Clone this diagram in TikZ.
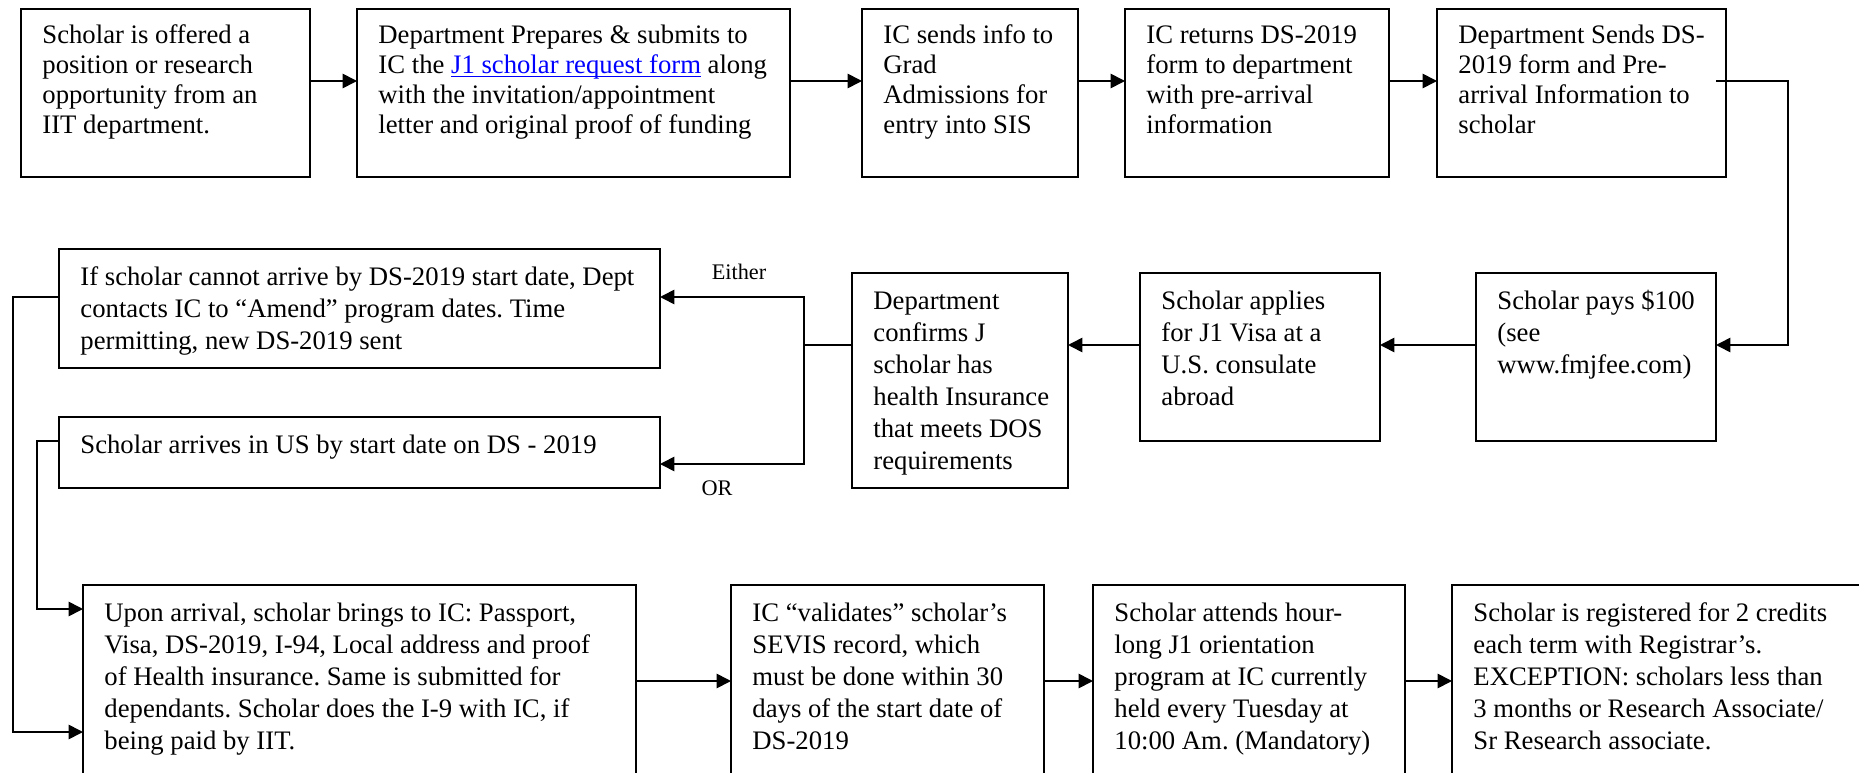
\documentclass[tikz,border=0pt]{standalone}
\usepackage{fontspec}
\setmainfont{Liberation Serif}
\usetikzlibrary{arrows.meta,calc}
\frenchspacing
\newcommand\boxnode[7][13.4]{%
  \node[box, minimum width={(#5-#3)*0.4494pt}, minimum height={(#6-#4)*0.4494pt}] (#2) at (#3,#4) {};
  \node[txt, font=\fontsize{12}{#1}\selectfont\frenchspacing] (#2-t) at ($(#2.north west)+(21,13.5)$) {\strut #7};
}
\newcommand\linkul[1]{\underline{\smash{#1}}}
\begin{document}
\begin{tikzpicture}[x=0.4494pt,y=-0.4494pt,
  box/.style={draw, line width=0.75pt, rectangle, anchor=north west, inner sep=0pt, outer sep=0pt},
  txt/.style={anchor=north west, inner sep=0pt, align=left},
  lbl/.style={inner sep=0pt, font=\fontsize{10}{12}\selectfont},
  conn/.style={line width=0.75pt},
  arr/.style={conn, -{Triangle[length=6.5pt,width=6.5pt]}},
]
\useasboundingbox (0,0) rectangle (1859,773);
\clip (0,0) rectangle (1859,773);
% Row 1
\boxnode{b1}{21}{9}{310}{177}{Scholar is offered a\\position or research\\opportunity from an\\IIT department.}
\boxnode{b2}{357}{9}{790}{177}{Department Prepares \& submits to\\IC the \textcolor{blue}{\linkul{J1 scholar request form}} along\\with the invitation/appointment\\letter and original proof of funding}
\boxnode{b3}{862}{9}{1078}{177}{IC sends info to\\Grad\\Admissions for\\entry into SIS}
\boxnode{b4}{1125}{9}{1389}{177}{IC returns DS-2019\\form to department\\with pre-arrival\\information}
\boxnode{b5}{1437}{9}{1726}{177}{Department Sends DS-\\2019 form and Pre-\\arrival Information to\\scholar}
% Row 2
\boxnode[14.4]{pays}{1476}{273}{1716}{441}{Scholar pays \$100\\(see\\www.fmjfee.com)}
\boxnode[14.4]{appl}{1140}{273}{1380}{441}{Scholar applies\\for J1 Visa at a\\U.S. consulate\\abroad}
\boxnode[14.4]{dept}{852}{273}{1068}{488}{Department\\confirms J\\scholar has\\health Insurance\\that meets DOS\\requirements}
\boxnode[14.4]{ifb}{59}{249}{660}{368}{If scholar cannot arrive by DS-2019 start date, Dept\\contacts IC to “Amend” program dates. Time\\permitting, new DS-2019 sent}
\boxnode[14.4]{arrv}{59}{417}{660}{488}{Scholar arrives in US by start date on DS - 2019}
% Row 3
\boxnode[14.4]{upon}{83}{585}{636}{820}{Upon arrival, scholar brings to IC: Passport,\\Visa, DS-2019, I-94, Local address and proof\\of Health insurance. Same is submitted for\\dependants. Scholar does the I-9 with IC, if\\being paid by IIT.}
\boxnode[14.4]{valid}{731}{585}{1044}{820}{IC “validates” scholar’s\\SEVIS record, which\\must be done within 30\\days of the start date of\\DS-2019}
\boxnode[14.4]{attd}{1093}{585}{1405}{820}{Scholar attends hour-\\long J1 orientation\\program at IC currently\\held every Tuesday at\\10:00 Am. (Mandatory)}
\boxnode[14.4]{regd}{1452}{585}{1920}{820}{Scholar is registered for 2 credits\\each term with Registrar’s.\\EXCEPTION: scholars less than\\3 months or Research Associate/\\Sr Research associate.}
% labels
\node[lbl] (either) at (739,272) {Either};
\node[lbl] (or) at (717,488) {OR};
% Row 1 connectors
\draw[arr] ($(b1.north east)+(0,72)$) -- ($(b2.north west)+(0,72)$);
\draw[arr] ($(b2.north east)+(0,72)$) -- ($(b3.north west)+(0,72)$);
\draw[arr] ($(b3.north east)+(0,72)$) -- ($(b4.north west)+(0,72)$);
\draw[arr] ($(b4.north east)+(0,72)$) -- ($(b5.north west)+(0,72)$);
\draw[arr] ($(b5.north east)+(-10,72)$) -- ++(72,0) |- ($(pays.north east)+(0,72)$);
% Row 2 connectors
\draw[arr] ($(pays.north west)+(0,72)$) -- ($(appl.north east)+(0,72)$);
\draw[arr] ($(appl.north west)+(0,72)$) -- ($(dept.north east)+(0,72)$);
\coordinate (split) at ($(dept.north west)+(-48,72)$);
\draw[conn] ($(dept.north west)+(0,72)$) -- (split);
\draw[arr] (split) |- ($(ifb.north east)+(0,48)$);
\draw[arr] (split) |- ($(arrv.north east)+(0,47)$);
% Left connectors
\draw[arr] ($(ifb.north west)+(0,48)$) -- ++(-46,0) |- ($(upon.north west)+(0,147)$);
\draw[arr] ($(arrv.north west)+(0,24)$) -- ++(-22,0) |- ($(upon.north west)+(0,24)$);
% Row 3 connectors
\draw[arr] ($(upon.north east)+(0,96)$) -- ($(valid.north west)+(0,96)$);
\draw[arr] ($(valid.north east)+(0,96)$) -- ($(attd.north west)+(0,96)$);
\draw[arr] ($(attd.north east)+(0,96)$) -- ($(regd.north west)+(0,96)$);
\end{tikzpicture}
\end{document}
